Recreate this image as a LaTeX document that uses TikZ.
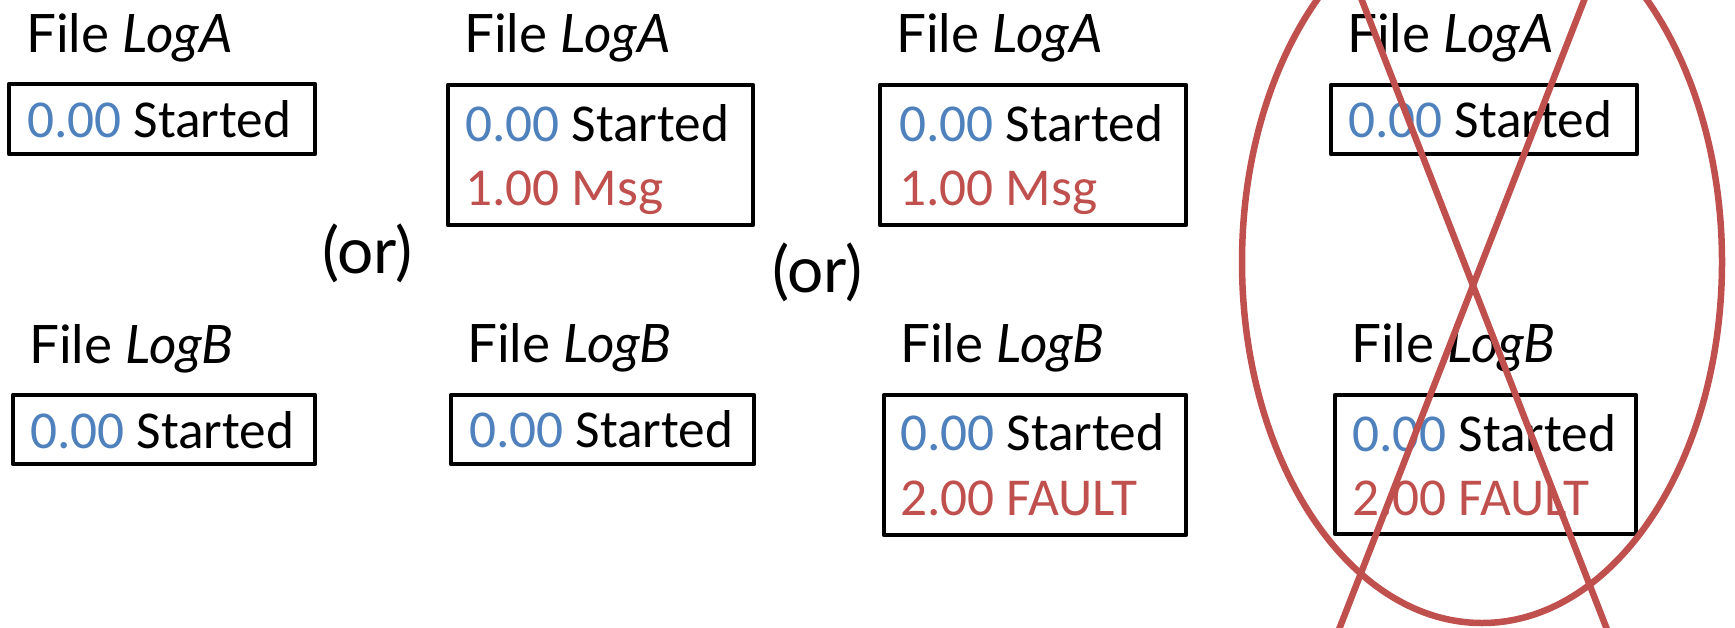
\documentclass[tikz,border=0pt]{standalone}
\usepackage{fontspec}
\setmainfont{Carlito}
\newfontfamily\titlefont{Lato}
\definecolor{offblue}{HTML}{4F81BD}
\definecolor{offred}{HTML}{C0504D}
\tikzset{
  logbox/.style={draw=black, line width=4.5pt, line join=round, rectangle, inner sep=0pt},
  entry/.style={anchor=base west, inner sep=0pt, font=\fontsize{53.3}{60}\selectfont},
  title/.style={anchor=base west, inner sep=0pt, font=\titlefont\fontsize{53}{60}\selectfont},
  ortext/.style={anchor=base west, inner sep=0pt, font=\titlefont\fontsize{64}{70}\selectfont},
  cross/.style={draw=offred, line width=6.5pt}
}
\newcommand{\tb}[1]{\textcolor{offblue}{#1}}
\newcommand{\tr}[1]{\textcolor{offred}{#1}}
\begin{document}
\begin{tikzpicture}[x=1pt,y=-1pt]
\useasboundingbox (0,0) rectangle (1735,627);
\clip (0,0) rectangle (1735,627);
% column 1
\node[title] (ta1) at (26,52) {File \textit{LogA}};
\node[logbox, minimum width=306pt, minimum height=70pt] (a1) at (162,119) {};
\node[entry] (a1l1) at (27,137) {\tb{0.00} Started};
\node[title] (tb1) at (29,363) {File \textit{LogB}};
\node[logbox, minimum width=302pt, minimum height=69pt] (b1) at (164,429.5) {};
\node[entry] (b1l1) at (30,448) {\tb{0.00} Started};
% or
\node[ortext] (or1) at (322,273) {(or)};
% column 2
\node[title] (ta2) at (464,52) {File \textit{LogA}};
\node[logbox, minimum width=305pt, minimum height=140pt] (a2) at (600.5,155) {};
\node[entry] (a2l1) at (465,141) {\tb{0.00} Started};
\node[entry] (a2l2) at (465,205) {\tr{1.00 Msg}};
\node[title] (tb2) at (467,362) {File \textit{LogB}};
\node[logbox, minimum width=303pt, minimum height=69pt] (b2) at (602.5,429.5) {};
\node[entry] (b2l1) at (469,447) {\tb{0.00} Started};
% or
\node[ortext] (or2) at (772,292) {(or)};
% column 3
\node[title] (ta3) at (896,52) {File \textit{LogA}};
\node[logbox, minimum width=306pt, minimum height=140pt] (a3) at (1033,155) {};
\node[entry] (a3l1) at (899,141) {\tb{0.00} Started};
\node[entry] (a3l2) at (899,205) {\tr{1.00 Msg}};
\node[title] (tb3) at (900,362) {File \textit{LogB}};
\node[logbox, minimum width=302pt, minimum height=140pt] (b3) at (1035,465) {};
\node[entry] (b3l1) at (900,450) {\tb{0.00} Started};
\node[entry] (b3l2) at (900,515) {\tr{2.00 FAULT}};
% column 4
\node[title] (ta4) at (1347,52) {File \textit{LogA}};
\node[logbox, minimum width=306pt, minimum height=69pt] (a4) at (1484,119.5) {};
\node[entry] (a4l1) at (1348,137) {\tb{0.00} Started};
\node[title] (tb4) at (1351,362) {File \textit{LogB}};
\node[logbox, minimum width=301pt, minimum height=139pt] (b4) at (1485.5,464.5) {};
\node[entry] (b4l1) at (1352,451) {\tb{0.00} Started};
\node[entry] (b4l2) at (1352,515) {\tr{2.00 FAULT}};
% cross-out
\draw[cross] (1482,262) ellipse [x radius=240, y radius=361];
\coordinate (x1s) at (1354,-20);
\coordinate (x1e) at (1615,650);
\coordinate (x2s) at (1592,-20);
\coordinate (x2e) at (1331,650);
\draw[cross] (x1s) -- (x1e);
\draw[cross] (x2s) -- (x2e);
\end{tikzpicture}
\end{document}
